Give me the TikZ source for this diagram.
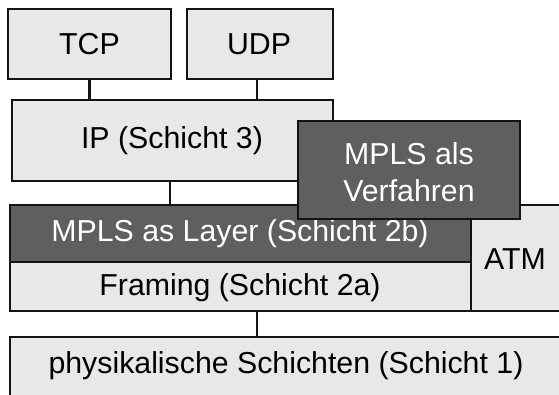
\documentclass[tikz,border=0pt]{standalone}
\usepackage{fontspec}
\setmainfont{Liberation Sans}
\usetikzlibrary{calc}
\definecolor{boxlight}{HTML}{E8E8E8}
\definecolor{boxdark}{HTML}{5F5F5F}
\definecolor{edge}{HTML}{141414}
\tikzset{
  layer/.style={draw=edge, line width=2.3pt, fill=boxlight, rectangle,
    anchor=north west, inner sep=0pt, outer sep=0pt,
    font=\fontsize{30.3}{37}\selectfont, text=black, align=center},
  darklayer/.style={layer, fill=boxdark, text=white},
  link/.style={draw=edge, line width=2.3pt},
  lbl/.style={font=\fontsize{30.3}{37}\selectfont, inner sep=0pt, align=center}
}
\begin{document}
\begin{tikzpicture}[x=1pt,y=-1pt]
\useasboundingbox (0,0) rectangle (559,394);
\clip (0,0) rectangle (559,394);

% upper protocols
\node[layer, minimum width=163pt, minimum height=70pt] (tcp) at (8,9) {};
\node[lbl] at (tcp.center) {TCP};
\node[layer, minimum width=146pt, minimum height=70pt] (udp) at (187,9) {};
\node[lbl] at ($(udp.center)+(-1,0)$) {UDP};

% network layer
\node[layer, minimum width=321pt, minimum height=81pt] (ip) at (12,100) {};
\node[lbl] at (172,141) {IP (Schicht 3)};

% layer 2 stack
\node[darklayer, minimum width=461pt, minimum height=57pt] (mpls) at (10,205) {};
\node[lbl, text=white] at (240,234) {MPLS as Layer (Schicht 2b)};
\node[layer, minimum width=461pt, minimum height=49pt] (frm) at (10,262) {};
\node[lbl] at (240,288) {Framing (Schicht 2a)};
\node[layer, minimum width=120pt, minimum height=106pt] (atm) at (471,205) {};
\node[lbl] at (515,259) {ATM};

% physical layer
\node[layer, minimum width=570pt, minimum height=80pt] (phy) at (10,337) {};
\node[lbl] at (286,366) {physikalische Schichten (Schicht 1)};

% connectors
\draw[link] (tcp.south) -- (tcp.south |- ip.north);
\draw[link] ($(udp.south)+(-3,0)$) -- ($(udp.south |- ip.north)+(-3,0)$);
\draw[link] (170,181) coordinate (ipfoot) -- (ipfoot |- mpls.north);
\draw[link] (257,311) coordinate (frmfoot) -- (frmfoot |- phy.north);

% MPLS as a procedure, overlapping the stack
\node[darklayer, minimum width=222pt, minimum height=98pt] (proc) at (298,121) {};
\node[lbl, text=white] at ($(proc.center)+(0,2)$) {MPLS als\\Verfahren};
\end{tikzpicture}
\end{document}
